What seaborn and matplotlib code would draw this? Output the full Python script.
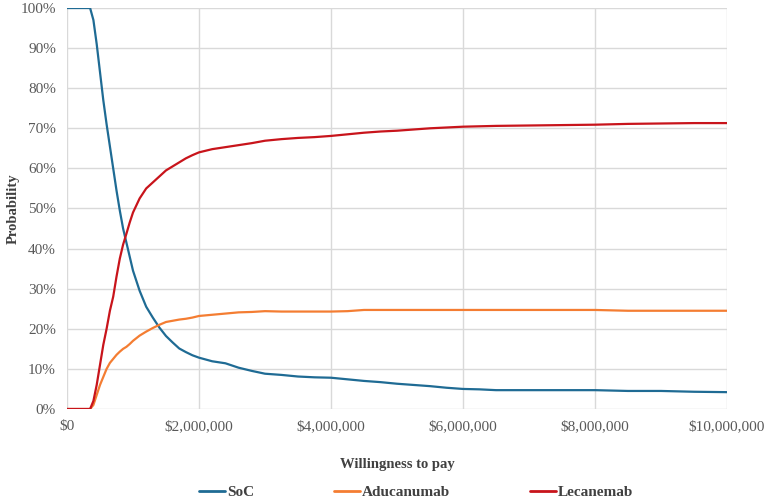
import pandas as pd
import matplotlib
matplotlib.use("Agg")
import matplotlib.pyplot as plt
import seaborn as sns
from matplotlib.ticker import FuncFormatter, MultipleLocator

# data (willingness to pay in $ millions, probability in %)
wtp_millions = [0, 0.1, 0.2, 0.3, 0.35, 0.4, 0.45, 0.5, 0.55, 0.6, 0.65, 0.7, 0.75, 0.8,
                0.85, 0.9, 0.95, 1.0, 1.1, 1.2, 1.3, 1.4, 1.5, 1.6, 1.7, 1.8, 1.9, 2.0,
                2.2, 2.4, 2.6, 2.8, 3.0, 3.25, 3.5, 3.75, 4.0, 4.25, 4.5, 4.75, 5.0,
                5.25, 5.5, 5.75, 6.0, 6.25, 6.5, 7.0, 7.5, 8.0, 8.5, 9.0, 9.5, 10.0]
soc = [100, 100, 100, 100, 100, 97, 91, 84, 77, 71, 65.5, 60, 54.5, 49.5,
       45, 41.5, 38, 34.5, 29.5, 25.5, 22.8, 20.3, 18.2, 16.6, 15.1, 14.2, 13.4, 12.8,
       11.9, 11.4, 10.3, 9.5, 8.8, 8.5, 8.1, 7.9, 7.8, 7.4, 7.0, 6.7, 6.3,
       6.0, 5.7, 5.3, 5.0, 4.9, 4.7, 4.7, 4.7, 4.7, 4.5, 4.5, 4.3, 4.2]
aducanumab = [0, 0, 0, 0, 0, 1, 3.5, 6, 8, 10, 11.5, 12.5, 13.5, 14.3,
              15, 15.5, 16.2, 17, 18.3, 19.3, 20.2, 21, 21.7, 22, 22.3, 22.5, 22.8, 23.2,
              23.5, 23.8, 24.1, 24.2, 24.4, 24.3, 24.3, 24.3, 24.3, 24.4, 24.7, 24.7, 24.7,
              24.7, 24.7, 24.7, 24.7, 24.7, 24.7, 24.7, 24.7, 24.7, 24.5, 24.5, 24.5, 24.5]
lecanemab = [0, 0, 0, 0, 0, 2, 6, 11, 16, 20, 24.5, 28, 33, 37.5,
             41, 43.7, 46.5, 49, 52.5, 55, 56.5, 58, 59.5, 60.5, 61.5, 62.5, 63.3, 64,
             64.8, 65.3, 65.8, 66.3, 66.9, 67.3, 67.6, 67.8, 68.1, 68.5, 68.9, 69.2, 69.4,
             69.7, 70.0, 70.2, 70.4, 70.5, 70.6, 70.7, 70.8, 70.9, 71.1, 71.2, 71.3, 71.3]

strategies = ["SoC", "Aducanumab", "Lecanemab"]
colors = ["#1F6B94", "#F47D32", "#C8141B"]

rows = []
for name, vals in zip(strategies, [soc, aducanumab, lecanemab]):
    for x, v in zip(wtp_millions, vals):
        rows.append({"wtp": x * 1e6, "prob": v / 100, "Strategy": name})
df = pd.DataFrame(rows)

sns.set_theme(style="white")
plt.rcParams["font.family"] = ["Liberation Serif", "DejaVu Serif"]

fig = plt.figure(figsize=(7.67, 5.0), dpi=100)
ax = fig.add_axes([67 / 767, 1 - 409 / 500, 660 / 767, 401 / 500])

sns.lineplot(data=df, x="wtp", y="prob", hue="Strategy", hue_order=strategies,
             palette=colors, linewidth=1.6, ax=ax, legend=False)

ax.set_xlim(0, 10e6)
ax.set_ylim(0, 1)
ax.xaxis.set_major_locator(MultipleLocator(2e6))
ax.yaxis.set_major_locator(MultipleLocator(0.1))
ax.xaxis.set_major_formatter(FuncFormatter(lambda v, p: "${:,.0f}".format(v)))
ax.yaxis.set_major_formatter(FuncFormatter(lambda v, p: "{:.0f}%".format(v * 100)))
ax.grid(True, color="#D9D9D9", linewidth=1.0)
ax.set_axisbelow(True)
for s in ax.spines.values():
    s.set_visible(False)
ax.tick_params(axis="both", length=0, labelsize=11, labelcolor="#595959")
ax.tick_params(axis="x", pad=8)
ax.tick_params(axis="y", pad=8)

ax.set_xlabel("Willingness to pay", fontsize=10.5, fontweight="bold", color="#404040")
ax.set_ylabel("Probability", fontsize=10.5, fontweight="bold", color="#404040")
ax.xaxis.set_label_coords(0.5, -0.122)
ax.yaxis.set_label_coords(-0.071, 0.5)

handles = [plt.Line2D([], [], color=c, linewidth=2) for c in colors]
leg = fig.legend(handles, strategies, loc="center", bbox_to_anchor=(416 / 767, 0.016),
                 ncol=3, frameon=False, handlelength=1.7, handletextpad=0.15,
                 columnspacing=5.2, prop={"size": 11, "weight": "bold"})
for t in leg.get_texts():
    t.set_color("#404040")

fig.savefig("out.png", dpi=100)
